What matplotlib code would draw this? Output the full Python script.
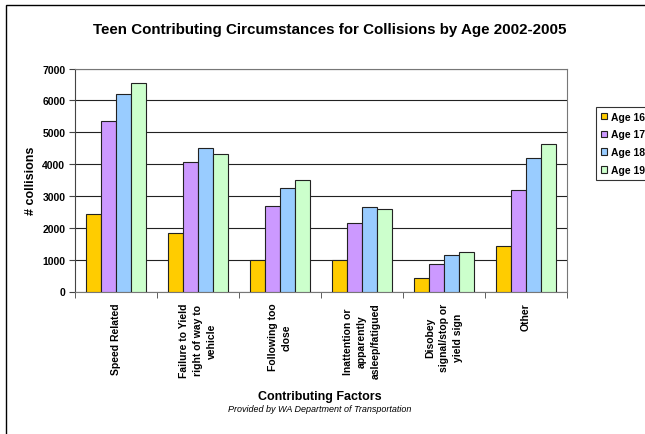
import numpy as np
import matplotlib.pyplot as plt
from matplotlib.patches import Rectangle

plt.rcParams['font.family'] = ['Liberation Sans', 'DejaVu Sans']

# data
factors = ['Speed Related',
           'Failure to Yield\nright of way to\nvehicle',
           'Following too\nclose',
           'Inattention or\napparently\nasleep/fatigued',
           'Disobey\nsignal/stop or\nyield sign',
           'Other']
age_labels = ['Age 16', 'Age 17', 'Age 18', 'Age 19']
age16 = [2420, 1850, 975, 995, 410, 1435]
age17 = [5360, 4070, 2680, 2145, 870, 3180]
age18 = [6215, 4490, 3245, 2655, 1140, 4175]
age19 = [6540, 4310, 3485, 2585, 1225, 4635]
yticks = [0, 1000, 2000, 3000, 4000, 5000, 6000, 7000]

colors = ['#FFCC00', '#CC99FF', '#99CCFF', '#CCFFCC']
series = [age16, age17, age18, age19]

fig = plt.figure(figsize=(6.45, 4.35), dpi=100)
ax = fig.add_axes([75/645, 1-292.5/435, 492/645, 223/435])

x = np.arange(len(factors))
bw = 0.185
for i, vals in enumerate(series):
    ax.bar(x + (i-1.5)*bw, vals, bw, color=colors[i], edgecolor='#222222',
           linewidth=0.8, label=age_labels[i], zorder=3)

ax.set_xlim(-0.5, len(factors)-0.5)
ax.set_ylim(0, 7000)
ax.set_yticks(yticks)
ax.set_yticklabels([str(v) for v in yticks], fontsize=7.5, fontweight='bold')
ax.yaxis.grid(True, color='#222222', linewidth=0.8, zorder=0)
ax.set_axisbelow(True)

ax.set_xticks(x)
ax.set_xticklabels(factors, rotation=90, fontsize=7.5, fontweight='bold',
                   multialignment='center', linespacing=1.5)
ax.set_xticks(np.arange(len(factors)+1) - 0.5, minor=True)
ax.tick_params(axis='x', which='major', length=0, pad=8)
ax.tick_params(axis='x', which='minor', length=4, direction='out', color='#444444')
ax.tick_params(axis='y', length=4, direction='out', color='#444444', pad=3)

for s in ['top', 'right', 'bottom']:
    ax.spines[s].set_color('#777777')
ax.spines['left'].set_color('#444444')

ax.set_ylabel('# collisions', fontsize=9, fontweight='bold')
ax.yaxis.set_label_coords(-0.077, 0.5)

fig.text(330/645, 1-30/435, 'Teen Contributing Circumstances for Collisions by Age 2002-2005',
         ha='center', va='center', fontsize=10.9, fontweight='bold')
fig.text(320/645, 1-397/435, 'Contributing Factors', ha='center', va='center',
         fontsize=9, fontweight='bold')
fig.text(320/645, 1-410/435, 'Provided by WA Department of Transportation',
         ha='center', va='center', fontsize=6.5, style='italic')

leg = fig.legend(loc='upper left', bbox_to_anchor=(596/645, 1-108/435),
                 fontsize=7.5, frameon=True, fancybox=False, handlelength=0.6,
                 handleheight=0.6, handletextpad=0.4, borderpad=0.45,
                 labelspacing=0.75, borderaxespad=0)
leg.get_frame().set_edgecolor('black')
leg.get_frame().set_linewidth(0.8)
for t in leg.get_texts():
    t.set_fontweight('bold')

fig.patches.append(Rectangle((6/645, -0.1), 1.2, 1-6/435+0.1, transform=fig.transFigure,
                             fill=False, edgecolor='black', linewidth=1))

plt.savefig('out.png', dpi=100)
